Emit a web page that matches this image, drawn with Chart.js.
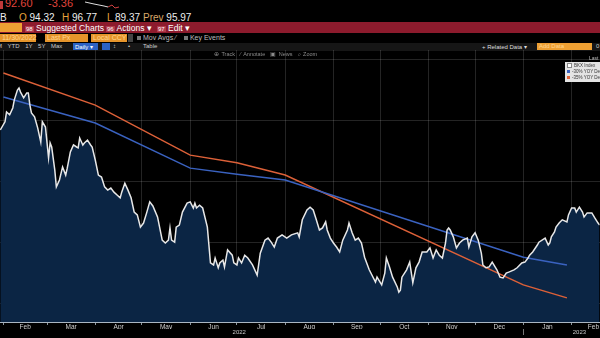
<!DOCTYPE html>
<html>
<head>
<meta charset="utf-8">
<script src="https://cdn.jsdelivr.net/npm/chart.js@4.4.1/dist/chart.umd.min.js"></script>
<style>
  html, body { margin: 0; padding: 0; background: #000; }
  body { width: 600px; height: 338px; position: relative; overflow: hidden;
         font-family: "Liberation Sans", Arial, sans-serif; color: #ddd; }
  .abs { position: absolute; white-space: nowrap; }
  .or { color: #e8a23c; }
  .box { position: absolute; background: #e6952b; color: #ffd58f; font-size: 7px; line-height: 8px; padding-left: 2px; box-sizing: border-box; }
  #chartBox { position: absolute; left: 0; top: 50px; width: 600px; height: 288px; }
  #legend { position: absolute; left: 565px; top: 62px; width: 40px; background: #e4e4e4; padding: 1px 0 1px 2px; }
  #legend div { font-size: 4.5px; line-height: 6px; color: #333; }
  #legend span { display: inline-block; width: 3px; height: 3px; margin-right: 2px; vertical-align: middle; }
</style>
</head>
<body>

<!-- quote header -->
<div class="abs" style="left:0;top:1px;width:3px;height:8px;background:#c0393a"></div>
<div class="abs" style="left:5px;top:-3px;font-size:11px;color:#e0453c">92.60</div>
<div class="abs" style="left:48px;top:-3px;font-size:11px;color:#e0453c">-3.36</div>
<svg class="abs" style="left:84px;top:0" width="36" height="10">
  <polyline points="1,2 10,4 20,6 24,7" fill="none" stroke="#ddd" stroke-width="1"/>
  <polyline points="24,7 28,5 31,8 35,7" fill="none" stroke="#d04040" stroke-width="1"/>
</svg>
<div class="abs" style="left:0;top:12px;font-size:10px;color:#eee">B</div>
<div class="abs" style="left:19px;top:12px;font-size:10px;color:#eee"><span class="or">O</span> 94.32</div>
<div class="abs" style="left:62px;top:12px;font-size:10px;color:#eee"><span class="or">H</span> 96.77</div>
<div class="abs" style="left:107px;top:12px;font-size:10px;color:#eee"><span class="or">L</span> 89.37</div>
<div class="abs" style="left:143px;top:12px;font-size:10px;color:#eee"><span style="color:#d9a86a">Prev</span> 95.97</div>

<!-- menu band -->
<div class="abs" style="left:0;top:22px;width:600px;height:11px;background:#8d1b2d"></div>
<div class="abs" style="left:0;top:23px;width:22px;height:9px;background:#eea033"></div>
<div class="abs" style="left:25px;top:23px;font-size:8.5px;color:#fff"><span style="background:#b23b4b;font-size:6px;padding:0 1px">98</span> Suggested Charts &#9662;</div>
<div class="abs" style="left:106px;top:23px;font-size:8.5px;color:#fff"><span style="background:#b23b4b;font-size:6px;padding:0 1px">96</span> Actions &#9662;</div>
<div class="abs" style="left:157px;top:23px;font-size:8.5px;color:#fff"><span style="background:#b23b4b;font-size:6px;padding:0 1px">97</span> Edit &#9662;</div>

<!-- settings row -->
<div class="box" style="left:0;top:34px;width:36px;height:8px">11/30/2022</div>
<div class="box" style="left:45px;top:34px;width:43px;height:8px">Last Px</div>
<div class="box" style="left:91px;top:34px;width:36px;height:8px">Local CCY</div>
<div class="abs" style="left:128px;top:34px;width:5px;height:8px;background:#444"></div>
<div class="abs" style="left:137px;top:34px;font-size:7px;color:#bbb"><span style="display:inline-block;width:4px;height:4px;background:#777"></span> Mov Avgs &#8260;</div>
<div class="abs" style="left:184px;top:34px;font-size:7px;color:#bbb"><span style="display:inline-block;width:4px;height:4px;background:#777"></span> Key Events</div>

<!-- range row -->
<div class="abs" style="left:0;top:43px;width:600px;height:8px;background:#161616"></div>
<div class="abs" style="left:-3px;top:43px;font-size:6px;color:#ccc;word-spacing:4px">M YTD 1Y 5Y Max</div>
<div class="abs" style="left:73px;top:43px;width:25px;height:7px;background:#2b62c4;font-size:6px;color:#fff;padding-left:2px;box-sizing:border-box">Daily &#9662;</div>
<div class="abs" style="left:102px;top:43px;width:8px;height:7px;background:#2b62c4"></div>
<div class="abs" style="left:113px;top:43px;font-size:6px;color:#ccc">&#8597;</div>
<div class="abs" style="left:128px;top:43px;font-size:6px;color:#ccc">&#8226;</div>
<div class="abs" style="left:143px;top:43px;font-size:6px;color:#ccc">Table</div>
<div class="abs" style="left:482px;top:43px;font-size:6px;color:#ddd">+ Related Data &#9662;</div>
<div class="abs" style="left:537px;top:43px;width:55px;height:7px;background:#eea033;font-size:6px;color:#ffd58f;padding-left:2px;box-sizing:border-box">Add Data</div>
<div class="abs" style="left:596px;top:43px;font-size:6px;color:#ccc">0</div>

<div id="chartBox"><canvas id="bkxChart" width="600" height="288"></canvas></div>

<div class="abs" style="left:214px;top:51px;font-size:5.5px;color:#8c8c8c;word-spacing:1px">&#8853; Track &nbsp;&#8260; Annotate &nbsp;&#9635; News &nbsp;&#8981; Zoom</div>
<div class="abs" style="left:589px;top:55px;font-size:5px;color:#bbb">Last</div>
<div id="legend">
  <div><span style="background:#fff;border:0.5px solid #888"></span>BKX Index</div>
  <div><span style="background:#3a62c0"></span>-30% YOY Dec</div>
  <div><span style="background:#e0643a"></span>-35% YOY Dec</div>
</div>

<script>
// BKX daily closes, day 0 = 1 Jan 2022
const bkxDays = [
  29,32,33,35,37,38,40,41,42,44,
  46,47,48,49,51,53,55,56,58,60,
  61,62,64,65,67,69,71,72,74,76,
  78,79,80,82,83,85,87,88,90,92,
  94,96,98,100,102,104,106,107,109,111,
  113,115,117,119,121,123,125,127,130,133,
  135,137,138,139,141,142,144,146,149,151,
  153,154,155,157,159,162,164,166,167,169,
  170,172,173,175,178,179,181,182,184,186,
  188,191,194,196,199,201,203,205,207,210,
  213,216,220,221,223,226,228,230,232,234,
  236,238,239,241,243,245,247,249,252,253,
  255,257,259,261,263,266,270,271,274,276,
  277,279,281,284,285,286,287,290,292,294,
  296,298,300,303,305,307,309,311,313,315,
  316,317,318,320,322,324,326,329,330,332,
  334,336,338,339,341,343,345,348,350,352,
  354,356,359,361,364,366,368,369,371,374,
  375,379,381,382,383,385,386,388,390,393,
  394,396,398,399,401,403,404,406,409,411,
  413,414
];
const bkxClose = [
  132.8,134.8,137.2,136.5,138.2,140.2,142.6,143.1,142.1,140.7,
  141.9,141.9,138.9,137.0,136.0,133.3,129.8,134.8,133.5,125.9,
  129.6,128.6,122.9,118.8,120.5,123.7,121.7,123.4,127.4,129.1,
  128.6,128.4,130.8,129.1,129.6,130.3,129.1,128.6,125.4,121.7,
  121.2,118.8,118.0,118.5,117.5,116.8,116.1,117.5,119.7,118.0,
  116.1,112.6,111.9,108.9,109.9,112.4,115.1,114.1,111.4,105.7,
  105.0,105.7,108.7,105.7,105.2,108.9,109.4,112.6,114.8,115.1,
  113.6,114.8,113.6,114.3,113.6,108.9,100.1,99.6,101.3,98.9,
  100.1,100.8,99.1,103.3,102.0,100.1,99.6,101.3,100.1,102.0,
  101.3,99.6,97.1,102.5,105.7,106.2,105.2,104.0,106.2,107.0,
  106.2,107.0,107.5,106.5,110.7,113.1,113.8,113.1,110.7,108.2,
  108.7,110.2,108.2,106.2,105.0,104.0,102.8,105.7,108.2,109.9,
  107.5,105.7,106.2,105.0,101.5,98.4,95.4,96.6,94.7,97.6,
  101.3,99.1,96.6,94.2,92.9,93.4,96.6,98.4,100.3,95.2,
  98.9,100.3,102.8,102.8,103.8,101.3,103.3,102.0,101.3,105.0,
  108.2,108.7,108.2,106.5,103.8,105.0,105.7,106.2,104.0,106.5,
  107.5,105.7,102.5,99.6,98.9,99.1,100.3,98.4,96.6,96.4,
  97.6,97.9,98.4,98.9,100.1,100.3,101.3,102.0,102.8,104.5,
  105.2,106.2,104.5,105.0,106.5,107.7,108.9,109.9,110.7,110.2,
  111.9,113.6,113.6,112.6,113.8,112.6,111.4,112.4,112.4,111.1,
  109.9,109.4
];

// year-over-year decline paths
const pathDays = [31, 90, 151, 181, 212, 365, 393];
const path30 = [140.9, 134.5, 123.4, 121.9, 120.5, 101.5, 99.6];
const path35 = [146.8, 138.9, 126.6, 124.7, 121.7, 94.7, 91.5];

// axis ticks
const monthBounds = [31, 59, 90, 120, 151, 181, 212, 243, 273, 304, 334, 365, 396, 424];
const monthLabels = ['Feb', 'Mar', 'Apr', 'May', 'Jun', 'Jul', 'Aug', 'Sep', 'Oct', 'Nov', 'Dec', 'Jan', 'Feb'];
const yearLabels = ['2022', '', '2023'];
const yearTicks = [182.5, 365, 401];
const priceGrid = [90, 105, 120, 135, 150];

const xMin = 28.8, xMax = 414;
const gridColor = 'rgba(255,255,255,0.14)';

const toPoints = (days, vals) => days.map((d, i) => ({ x: d, y: vals[i] }));
const monthMids = monthLabels.map((m, i) => (monthBounds[i] + monthBounds[i + 1]) / 2);

const ctx = document.getElementById('bkxChart').getContext('2d');
new Chart(ctx, {
    type: 'line',
    data: {
        datasets: [{
            label: 'BKX Index',
            data: toPoints(bkxDays, bkxClose),
            borderColor: '#e8e8e8',
            borderWidth: 1.5,
            backgroundColor: '#0b2544',
            fill: 'start',
            pointRadius: 0,
            tension: 0
        }, {
            label: '-30% YOY Dec',
            data: toPoints(pathDays, path30),
            borderColor: '#3a62c0',
            borderWidth: 1.5,
            fill: false,
            pointRadius: 0
        }, {
            label: '-35% YOY Dec',
            data: toPoints(pathDays, path35),
            borderColor: '#dc6038',
            borderWidth: 1.5,
            fill: false,
            pointRadius: 0
        }]
    },
    options: {
        responsive: false,
        animation: false,
        devicePixelRatio: 1,
        layout: { padding: 0 },
        plugins: {
            legend: { display: false },
            tooltip: { enabled: false },
            filler: { drawTime: 'beforeDatasetsDraw' }
        },
        scales: {
            y: {
                min: 85.57,
                max: 152.45,
                position: 'right',
                z: 1,
                afterBuildTicks: s => { s.ticks = priceGrid.map(v => ({ value: v })); },
                afterFit: s => { s.width = 0; },
                ticks: { display: false },
                border: { display: false },
                grid: { color: gridColor, drawTicks: false }
            },
            x: {
                type: 'linear',
                min: xMin,
                max: xMax,
                position: 'bottom',
                weight: 0,
                z: 1,
                afterBuildTicks: s => {
                    s.ticks = monthBounds.filter(v => v > xMin && v < xMax).map(v => ({ value: v }));
                },
                afterFit: s => { s.height = 0; },
                ticks: { display: false },
                border: { display: true, color: '#aab6c2', width: 1 },
                grid: { color: gridColor, drawTicks: true, tickLength: 3, tickColor: '#8a949c' }
            },
            x2: {
                type: 'linear',
                min: xMin,
                max: xMax,
                position: 'bottom',
                weight: 1,
                afterBuildTicks: s => { s.ticks = monthMids.map(v => ({ value: v })); },
                afterFit: s => { s.height = 7; },
                border: { display: false },
                grid: { display: false, drawTicks: false, tickLength: 0 },
                ticks: {
                    autoSkip: false,
                    maxRotation: 0,
                    padding: 1,
                    color: '#d0d0d0',
                    font: { size: 6.5, family: 'Liberation Sans' },
                    callback: (v, i) => monthLabels[i]
                }
            },
            x3: {
                type: 'linear',
                min: xMin,
                max: xMax,
                position: 'bottom',
                weight: 2,
                afterBuildTicks: s => { s.ticks = yearTicks.map(v => ({ value: v })); },
                afterFit: s => { s.height = 9; },
                border: { display: false },
                grid: {
                    drawOnChartArea: false,
                    drawTicks: true,
                    tickLength: 6,
                    color: c => (c.tick && c.tick.value === 365) ? '#777' : 'transparent'
                },
                ticks: {
                    autoSkip: false,
                    maxRotation: 0,
                    padding: -6,
                    color: '#c8c8c8',
                    font: { size: 6, family: 'Liberation Sans' },
                    callback: (v, i) => yearLabels[i]
                }
            }
        }
    }
});
</script>
</body>
</html>
